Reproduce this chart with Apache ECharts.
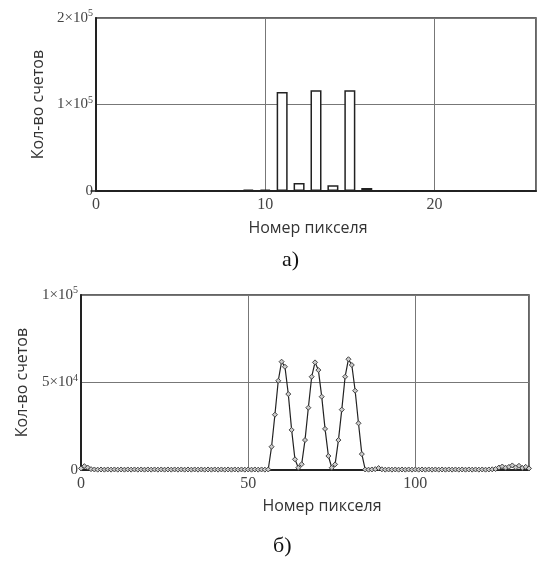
<!DOCTYPE html>
<html>
<head>
<meta charset="utf-8">
<script src="https://cdn.jsdelivr.net/npm/echarts@6/dist/echarts.min.js"></script>
<style>
  html, body { margin: 0; padding: 0; background: #fff; }
  #chart { width: 537px; height: 566px; }
</style>
</head>
<body>
<div id="chart"></div>
<script>
// (а) гистограмма по пикселям
var pixelsA = [0, 1, 2, 3, 4, 5, 6, 7, 8, 9, 10, 11, 12, 13, 14, 15, 16, 17, 18, 19, 20, 21, 22, 23, 24, 25]
var countsA = [0, 0, 0, 0, 0, 0, 0, 0, 0, 1500, 1500, 114500, 9200, 116400, 6600, 116400, 3500, 0, 0, 0, 0, 0, 0, 0, 0, 0]

// (б) отсчёты по пикселям 0..134
var countsB = [
  900, 2200, 1400, 500, 300, 200, 300, 200, 300, 200, 300, 200, 300, 200, 300,
  200, 300, 200, 300, 200, 300, 200, 300, 200, 300, 200, 300, 200, 300, 200,
  300, 200, 300, 200, 300, 200, 300, 200, 300, 200, 300, 200, 300, 200, 300,
  200, 300, 200, 300, 200, 300, 200, 300, 200, 300, 200, 300, 13300, 31600, 51000,
  61900, 59000, 43400, 22900, 6100, 1300, 3300, 17100, 35600, 53300, 61500, 57100, 41900, 23500, 8000,
  1300, 3200, 17100, 34500, 53300, 63300, 60000, 45300, 26700, 9100, 300, 200, 300, 500, 1100,
  400, 200, 300, 200, 300, 200, 300, 200, 300, 200, 300, 200, 300, 200, 300,
  200, 300, 200, 300, 200, 300, 200, 300, 200, 300, 200, 300, 200, 300, 200,
  300, 200, 300, 400, 600, 1400, 2000, 1300, 1800, 2600, 1500, 2400, 1200, 1800, 900
]

var yTicksA = [0, 100000, 200000]
var yTicksB = [0, 50000, 100000]

var serif = '"Liberation Serif", "DejaVu Serif", serif'
var sans = '"Open Sans", "Noto Sans", sans-serif'

function sciLabel(value) {
  if (value === 0) return '{m|0}'
  var exp = Math.floor(Math.log10(value))
  var mant = Math.round(value / Math.pow(10, exp))
  return '{m|' + mant + '×10}{e|' + exp + '}'
}

var sciRich = {
  m: { fontFamily: serif, fontSize: 15, color: '#444' },
  e: { fontFamily: serif, fontSize: 10, color: '#444', padding: [0, 0, 9, 0] },
}

function valueX(gridIndex, max, interval, gap, pad) {
  return {
    type: 'value',
    gridIndex: gridIndex,
    min: 0,
    max: max,
    interval: interval,
    name: 'Номер пикселя',
    nameLocation: 'middle',
    nameGap: gap,
    nameTextStyle: { fontFamily: sans, fontSize: 16, color: '#333', padding: pad },
    axisLine: { onZero: false, lineStyle: { color: '#222', width: 2 } },
    axisTick: { show: false },
    axisLabel: { showMaxLabel: false, margin: 6, fontFamily: serif, fontSize: 16, color: '#444' },
    splitLine: { lineStyle: { color: '#777', width: 1 } },
  }
}

function valueY(gridIndex, ticks, gap) {
  return {
    type: 'value',
    gridIndex: gridIndex,
    min: ticks[0],
    max: ticks[ticks.length - 1],
    interval: ticks[1] - ticks[0],
    name: 'Кол-во счетов',
    nameLocation: 'middle',
    nameGap: gap,
    nameTextStyle: { fontFamily: sans, fontSize: 16, color: '#333' },
    axisLine: { lineStyle: { color: '#222', width: 2 } },
    axisTick: { show: false },
    axisLabel: { margin: 3, formatter: sciLabel, rich: sciRich },
    splitLine: { lineStyle: { color: '#777', width: 1 } },
  }
}

var mycharts = echarts.init(document.getElementById('chart'))
mycharts.setOption({
  animation: false,
  backgroundColor: '#fff',
  grid: [
    { left: 96, right: 1, top: 18, height: 173, show: true, borderColor: '#333', borderWidth: 1.5 },
    { left: 81, right: 8, top: 295, height: 175, show: true, borderColor: '#333', borderWidth: 1.5 },
  ],
  xAxis: [valueX(0, 26, 10, 29, [0, 16, 0, 0]), valueX(1, 134, 50, 28, [0, 0, 0, 34])],
  yAxis: [valueY(0, yTicksA, 48), valueY(1, yTicksB, 51)],
  graphic: [
    { type: 'text', left: 282, top: 249, style: { text: 'а)', font: '22px ' + serif, fill: '#111' } },
    { type: 'text', left: 273, top: 535, style: { text: 'б)', font: '22px ' + serif, fill: '#111' } },
  ],
  series: [
    {
      type: 'bar',
      xAxisIndex: 0,
      yAxisIndex: 0,
      barWidth: 11,
      data: pixelsA.map(function (p, i) { return [p, countsA[i]] }),
      itemStyle: { color: '#fff', borderColor: '#222', borderWidth: 1.5 },
    },
    {
      type: 'line',
      xAxisIndex: 1,
      yAxisIndex: 1,
      data: countsB.map(function (v, i) { return [i, v] }),
      symbol: 'diamond',
      symbolSize: 5,
      showAllSymbol: true,
      lineStyle: { color: '#222', width: 1.2 },
      itemStyle: { color: '#ccc', borderColor: '#444', borderWidth: 1 },
    },
  ],
})
</script>
</body>
</html>
